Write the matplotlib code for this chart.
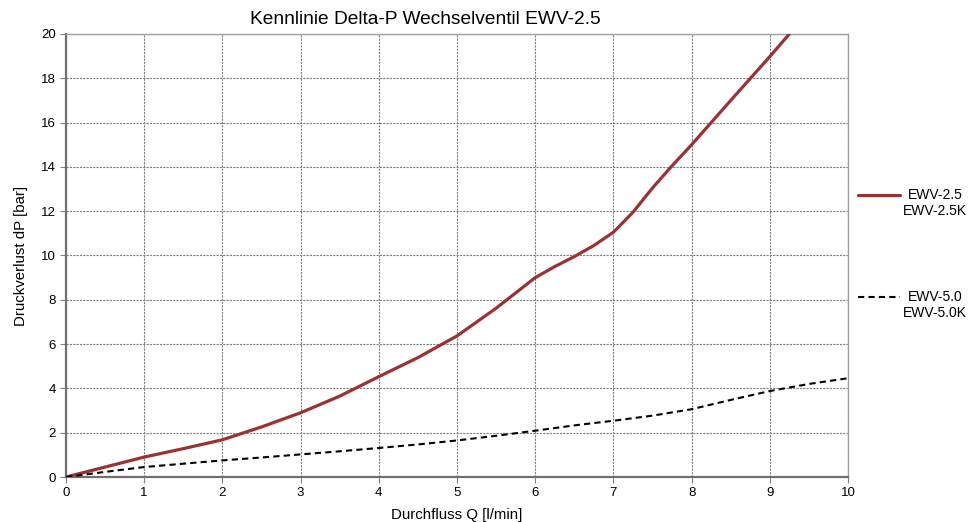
import matplotlib
matplotlib.use("Agg")
import matplotlib.pyplot as plt
from matplotlib.lines import Line2D

plt.rcParams['font.family'] = ['Liberation Sans', 'DejaVu Sans']

# EWV-2.5 / EWV-2.5K
q_25 = [0, 0.5, 1, 1.5, 2, 2.5, 3, 3.5, 4, 4.5, 5, 5.5, 6, 6.25, 6.5, 6.75, 7, 7.25, 7.5,
        7.75, 8, 8.5, 9, 9.25]
dp_25 = [0, 0.45, 0.9, 1.28, 1.68, 2.26, 2.9, 3.65, 4.53, 5.39, 6.37, 7.62, 9.0, 9.5, 9.95,
         10.45, 11.05, 11.95, 13.05, 14.05, 15.0, 17.0, 18.98, 20.0]

# EWV-5.0 / EWV-5.0K
q_50 = [0, 0.5, 1, 1.5, 2, 2.5, 3, 3.5, 4, 4.5, 5, 5.5, 6, 6.5, 7, 7.5, 8, 8.5, 9, 9.5, 10]
dp_50 = [0, 0.23, 0.45, 0.6, 0.75, 0.88, 1.02, 1.16, 1.31, 1.47, 1.65, 1.86, 2.09, 2.33, 2.54,
         2.77, 3.06, 3.48, 3.88, 4.2, 4.46]

labels = ['EWV-2.5\nEWV-2.5K', 'EWV-5.0\nEWV-5.0K']
red = '#993333'

fig = plt.figure(figsize=(9.69, 5.22), dpi=100)
ax = fig.add_axes([66 / 969, 1 - 477 / 522, (848 - 66) / 969, (477 - 34) / 522])

ax.plot(q_25, dp_25, color=red, lw=2.3, solid_joinstyle='round', solid_capstyle='round', zorder=3)
ax.plot(q_50, dp_50, color='black', lw=1.5, dashes=(3, 2), zorder=3)

ax.set_xlim(0, 10)
ax.set_ylim(0, 20)
ax.set_xticks(range(0, 11))
ax.set_yticks(range(0, 21, 2))
ax.grid(True, color='#808080', lw=0.8, linestyle=(0, (2, 1)))
ax.tick_params(labelsize=9.5, colors='#808080', labelcolor='black', length=4, width=0.8)

for s in ['top', 'right']:
    ax.spines[s].set_color('#a0a0a0')
    ax.spines[s].set_linewidth(1.0)
for s in ['left', 'bottom']:
    ax.spines[s].set_color('#707070')
    ax.spines[s].set_linewidth(1.6)

ax.set_xlabel('Durchfluss Q [l/min]', fontsize=10.8, labelpad=6)
ax.set_ylabel('Druckverlust dP [bar]', fontsize=10.8, labelpad=9)
fig.text(425 / 969, 1 - 19 / 522, 'Kennlinie Delta-P Wechselventil EWV-2.5',
         ha='center', va='center', fontsize=13.8)

# legend drawn beside the plot
legend_y = [195, 297]
styles = [dict(color=red, lw=2.3, solid_capstyle='round'),
          dict(color='black', lw=1.5, dashes=(3, 2))]
for lab, yy, st in zip(labels, legend_y, styles):
    fig.add_artist(Line2D([858 / 969, 900 / 969], [1 - yy / 522] * 2, **st))
    fig.text(903 / 969, 1 - (yy - 7) / 522, lab, ha='left', va='top',
             multialignment='center', fontsize=10, linespacing=1.2)

fig.savefig('out.png', dpi=100)
